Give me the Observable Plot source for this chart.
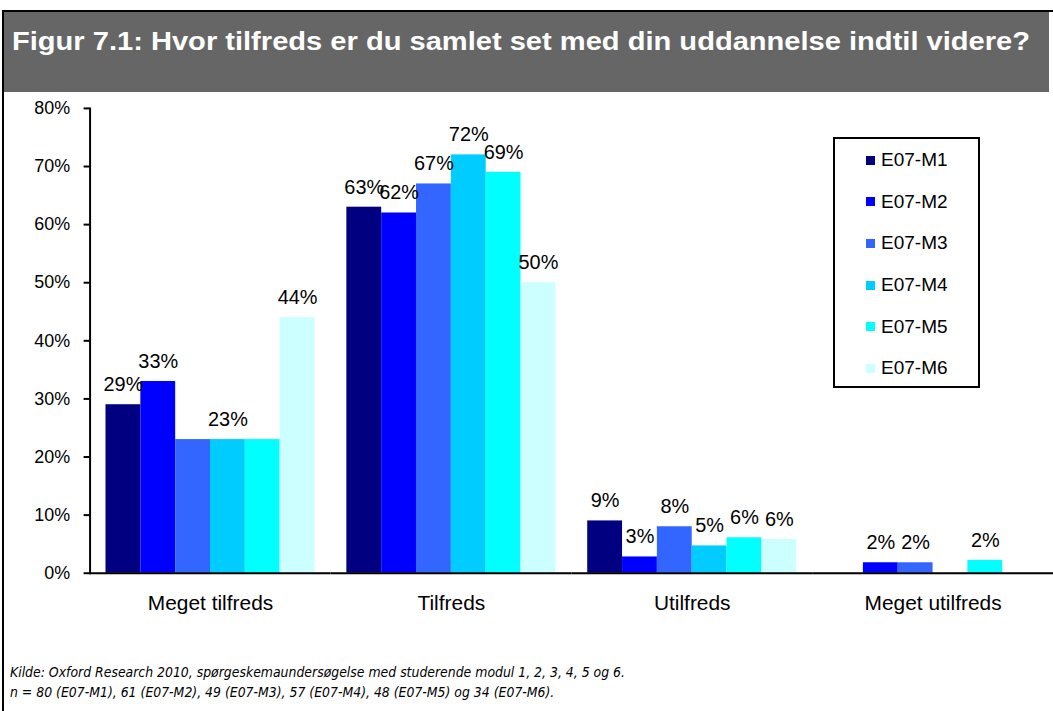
<!DOCTYPE html>
<html><head><meta charset="utf-8">
<script src="https://cdn.jsdelivr.net/npm/d3@7"></script>
<script src="https://cdn.jsdelivr.net/npm/@observablehq/plot@0.6"></script>
<style>
body{margin:0;background:#fff;}
#fig{position:relative;width:1053px;height:711px;overflow:hidden;font-family:"Liberation Sans",Arial,sans-serif;color:#000;}
#frame{position:absolute;left:2px;top:10px;width:1100px;height:800px;border-left:2px solid #000;border-top:2px solid #000;}
#title{position:absolute;left:4px;top:12px;width:1045px;height:80px;background:#666;}
#title span{position:absolute;left:8px;top:17px;color:#fff;font-family:"Liberation Sans",Arial,sans-serif;font-weight:bold;font-size:25px;line-height:1;white-space:nowrap;transform-origin:0 0;}
#chart{position:absolute;left:0;top:92px;}
#legend{position:absolute;left:833px;top:137px;width:143px;height:247px;border:2px solid #000;background:#fff;}
.item{position:absolute;left:31px;height:20px;display:flex;align-items:center;font-size:19px;white-space:nowrap;}
.sw{width:9px;height:9px;margin-right:6px;}
#caption{position:absolute;left:10px;top:662px;font-family:"DejaVu Sans",sans-serif;font-style:italic;font-size:14px;line-height:20px;white-space:nowrap;}
#caption div{transform-origin:0 0;}
</style>
</head><body>
<div id="fig">
  <div id="frame"></div>
  <div id="title"><span id="ttext"></span></div>
  <div id="chart"></div>
  <div id="legend"></div>
  <div id="caption"></div>
</div>
<script>
const titleText = "Figur 7.1: Hvor tilfreds er du samlet set med din uddannelse indtil videre?";
const captionLines = [
  "Kilde: Oxford Research 2010, spørgeskemaundersøgelse med studerende modul 1, 2, 3, 4, 5 og 6.",
  "n = 80 (E07-M1), 61 (E07-M2), 49 (E07-M3), 57 (E07-M4), 48 (E07-M5) og 34 (E07-M6)."
];
const categories = ["Meget tilfreds", "Tilfreds", "Utilfreds", "Meget utilfreds"];
const series = ["E07-M1", "E07-M2", "E07-M3", "E07-M4", "E07-M5", "E07-M6"];
const colors = ["#000080", "#0000FF", "#3366FF", "#00CCFF", "#00FFFF", "#CCFFFF"];
const valuesM1 = [29, 63, 9, 0];
const valuesM2 = [33, 62, 2.8, 1.8];
const valuesM3 = [23, 67, 8, 1.8];
const valuesM4 = [23, 72, 4.7, 0];
const valuesM5 = [23, 69, 6.1, 2.2];
const valuesM6 = [44, 50, 5.8, 0];
const yTicks = [0, 10, 20, 30, 40, 50, 60, 70, 80];
const hiddenLabels = [["Meget tilfreds", "E07-M3"], ["Meget tilfreds", "E07-M5"]];

const seriesValues = [valuesM1, valuesM2, valuesM3, valuesM4, valuesM5, valuesM6];
const data = [];
series.forEach((s, si) => categories.forEach((c, ci) => data.push({category: c, series: s, value: seriesValues[si][ci]})));
const labelData = data.filter(d => d.value > 0 && !hiddenLabels.some(([c, s]) => c === d.category && s === d.series));

const chart = Plot.plot({
  width: 1058, height: 548,
  marginLeft: 90, marginRight: 0, marginTop: 16, marginBottom: 65,
  style: {fontFamily: "'Liberation Sans', Arial, sans-serif", fontSize: "18px", color: "#000", background: "transparent", overflow: "visible"},
  fx: {domain: categories, padding: 0, label: null},
  x: {domain: series, paddingInner: 0, paddingOuter: 0.397, axis: null},
  y: {domain: [0, 80], label: null},
  color: {domain: series, range: colors},
  marks: [
    Plot.barY(data, {fx: "category", x: "series", y: "value", fill: "series", inset: 0}),
    Plot.ruleY([0], {strokeWidth: 2}),
    Plot.frame({anchor: "left", strokeWidth: 2, facetAnchor: "left"}),
    Plot.axisY(yTicks, {tickFormat: d => d + "%", tickSize: 6, tickPadding: 14, strokeWidth: 2, fontSize: 18, label: null}),
    Plot.axisFx({anchor: "bottom", tickSize: 0, tickPadding: 22, fontSize: 21, label: null}),
    Plot.text(labelData, {fx: "category", x: "series", y: "value", text: d => Math.round(d.value) + "%", dy: -20, fontSize: 20})
  ]
});
document.getElementById("chart").appendChild(chart);

const legend = document.getElementById("legend");
series.forEach((s, i) => {
  const it = document.createElement("div");
  it.className = "item";
  it.style.top = (11 + i * 41.67) + "px";
  it.innerHTML = `<div class="sw" style="background:${colors[i]}"></div><span>${s}</span>`;
  legend.appendChild(it);
});

const t = document.getElementById("ttext");
t.textContent = titleText;
const tw = t.getBoundingClientRect().width;
t.style.transform = `scaleX(${1018 / tw})`;

const cap = document.getElementById("caption");
const capDivs = captionLines.map(l => { const d = document.createElement("div"); d.textContent = l; cap.appendChild(d); return d; });
const rng = document.createRange(); rng.selectNodeContents(capDivs[0]);
const textW = rng.getBoundingClientRect().width;
capDivs.forEach(d => d.style.transform = `scaleX(${615 / textW})`);
</script>
</body></html>
